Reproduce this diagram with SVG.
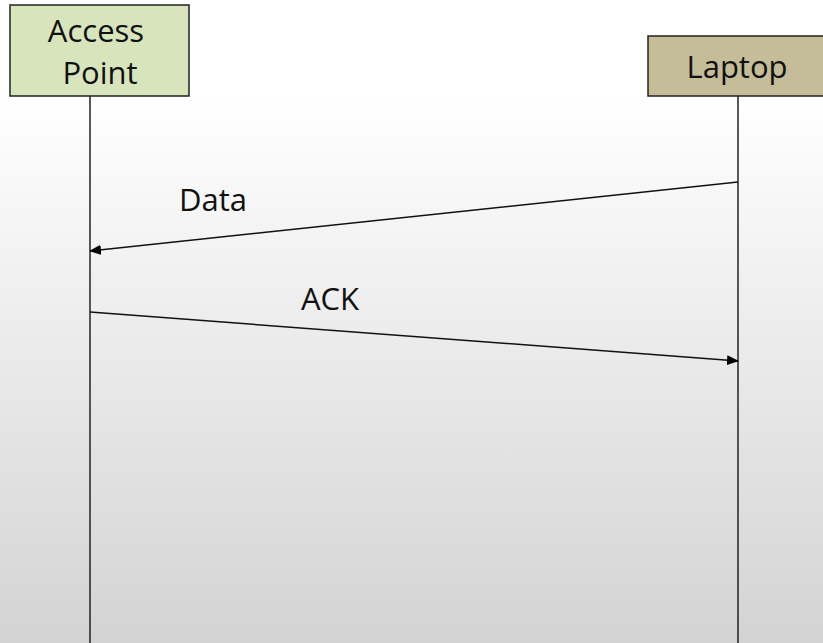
<svg xmlns="http://www.w3.org/2000/svg" width="823" height="643" viewBox="0 0 823 643">
<defs>
<linearGradient id="bg" x1="0" y1="0" x2="0" y2="1">
<stop offset="0" stop-color="#ffffff"/>
<stop offset="0.15" stop-color="#ffffff"/>
<stop offset="1" stop-color="#d3d3d3"/>
</linearGradient>
<marker id="ah" markerWidth="12" markerHeight="10" refX="11" refY="5" orient="auto" markerUnits="userSpaceOnUse">
<path d="M0,0 L12,5 L0,10 Z" fill="#000"/>
</marker>
<style>
.box{stroke:#222;stroke-width:1.5}
.t{font-family:"Open Sans","Liberation Sans",sans-serif;font-size:31px;fill:#111;text-anchor:middle}
.life{stroke:#222;stroke-width:1.5;fill:none}
.msg{stroke:#111;stroke-width:1.5;fill:none;marker-end:url(#ah)}
</style>
</defs>
<rect width="823" height="643" fill="url(#bg)"/>
<g id="connectors">
<line class="life" x1="90" y1="96" x2="90" y2="643"/>
<line class="life" x1="738" y1="96" x2="738" y2="643"/>
<line class="msg" x1="738" y1="182" x2="90" y2="251"/>
<line class="msg" x1="90" y1="312" x2="738" y2="361"/>
<text class="t" x="213" y="211">Data</text>
<text class="t" x="330" y="310">ACK</text>
</g>
<g id="access-point">
<rect class="box" x="10" y="5" width="179" height="91" fill="#d8e4bc"/>
<text class="t" x="96" y="42">Access</text>
<text class="t" x="100" y="84">Point</text>
</g>
<g id="laptop">
<rect class="box" x="648" y="36" width="180" height="60" fill="#c4bd97"/>
<text class="t" x="737" y="78">Laptop</text>
</g>
</svg>
